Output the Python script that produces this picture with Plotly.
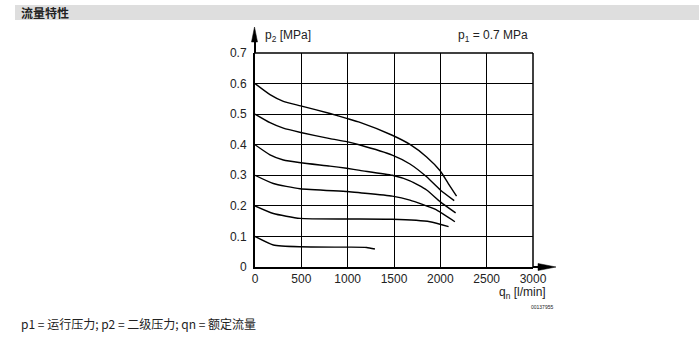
import plotly.graph_objects as go

# Flow characteristic curves (q_n in l/min, p2 in MPa)
q_06 = [0, 162, 306, 493, 809, 989, 1133, 1481, 1672, 1852, 2000, 2086, 2175]
p_06 = [0.6, 0.564, 0.542, 0.527, 0.502, 0.486, 0.473, 0.431, 0.401, 0.360, 0.314, 0.273, 0.232]
q_05 = [0, 162, 306, 493, 809, 989, 1133, 1481, 1672, 1852, 2000, 2150]
p_05 = [0.5, 0.472, 0.454, 0.440, 0.420, 0.410, 0.399, 0.366, 0.337, 0.295, 0.252, 0.217]
q_04 = [0, 162, 306, 493, 809, 989, 1133, 1481, 1672, 1852, 2000, 2165]
p_04 = [0.4, 0.367, 0.350, 0.341, 0.330, 0.323, 0.316, 0.300, 0.282, 0.252, 0.213, 0.177]
q_03 = [0, 198, 485, 1000, 1133, 1481, 1672, 1942, 2157]
p_03 = [0.3, 0.273, 0.256, 0.247, 0.243, 0.232, 0.219, 0.189, 0.148]
q_02 = [0, 198, 485, 1000, 1481, 1888, 2089]
p_02 = [0.2, 0.175, 0.159, 0.157, 0.156, 0.148, 0.132]
q_01 = [0, 198, 485, 1000, 1205, 1294]
p_01 = [0.1, 0.072, 0.066, 0.065, 0.064, 0.059]

series = [(q_06, p_06), (q_05, p_05), (q_04, p_04), (q_03, p_03), (q_02, p_02), (q_01, p_01)]

x_ticks = [0, 500, 1000, 1500, 2000, 2500, 3000]
y_ticks = [0, 0.1, 0.2, 0.3, 0.4, 0.5, 0.6, 0.7]
y_labels = ["0", "0.1", "0.2", "0.3", "0.4", "0.5", "0.6", "0.7"]

W, H = 699, 356
L, R, T, B = 255, 533, 53, 267  # plot area pixel bounds
pw, ph = R - L, B - T

def px(xp):
    return (xp - L) / pw

def py(yp):
    return (B - yp) / ph

FONT = "Liberation Sans, Arial, sans-serif"
CJK = "Noto Sans CJK SC, sans-serif"

fig = go.Figure()
for q, p in series:
    fig.add_trace(go.Scatter(x=q, y=p, mode="lines",
                             line=dict(color="black", width=1.4, shape="spline", smoothing=0.5),
                             hoverinfo="skip", showlegend=False))

fig.update_layout(
    width=W, height=H, autosize=False,
    margin=dict(l=L, r=W - R, t=T, b=H - B, pad=0),
    paper_bgcolor="white", plot_bgcolor="white",
    font=dict(family=FONT, size=12, color="#222"),
    showlegend=False,
)
fig.update_xaxes(range=[0, 3000], tickvals=x_ticks, ticktext=[str(v) for v in x_ticks],
                 showgrid=True, gridcolor="black", gridwidth=1,
                 showline=True, linecolor="black", linewidth=2, zeroline=False,
                 ticks="", tickfont=dict(family=FONT, size=12, color="#222"), fixedrange=True)
fig.update_yaxes(range=[0, 0.7], tickvals=y_ticks, ticktext=y_labels,
                 showgrid=True, gridcolor="black", gridwidth=1,
                 showline=True, linecolor="black", linewidth=2, zeroline=False,
                 ticks="", ticklabelstandoff=4,
                 tickfont=dict(family=FONT, size=12, color="#222"), fixedrange=True)

shapes = [
    # header band
    dict(type="rect", xref="paper", yref="paper", x0=px(15), x1=px(699), y0=py(20), y1=py(5),
         fillcolor="#dedede", line=dict(width=0), layer="below"),
    # top and right border
    dict(type="line", xref="paper", yref="paper", x0=0, x1=1, y0=1, y1=1, line=dict(color="black", width=1.5)),
    dict(type="line", xref="paper", yref="paper", x0=1, x1=1, y0=0, y1=1, line=dict(color="black", width=1.5)),
    # axis extensions
    dict(type="line", xref="paper", yref="paper", x0=0, x1=0, y0=1, y1=py(40), line=dict(color="black", width=2)),
    dict(type="line", xref="paper", yref="paper", x0=1, x1=px(540), y0=0, y1=0, line=dict(color="black", width=2)),
    # arrow heads
    dict(type="path", xref="paper", yref="paper",
         path=f"M {px(251.5)} {py(42)} L {px(257.5)} {py(42)} L {px(254.5)} {py(27)} Z",
         fillcolor="black", line=dict(color="black", width=0.5)),
    dict(type="path", xref="paper", yref="paper",
         path=f"M {px(538)} {py(263.5)} L {px(538)} {py(270.5)} L {px(556)} {py(267)} Z",
         fillcolor="black", line=dict(color="black", width=0.5)),
]
fig.update_layout(shapes=shapes)

ann = [
    dict(text="<b>流量特性</b>", x=px(19), y=py(13), xanchor="left", yanchor="middle",
         font=dict(family=CJK, size=12, color="#222")),
    dict(text="p<sub>2</sub> [MPa]", x=px(263), y=py(36), xanchor="left", yanchor="middle",
         font=dict(family=FONT, size=12, color="#222")),
    dict(text="p<sub>1</sub> = 0.7 MPa", x=px(530), y=py(36), xanchor="right", yanchor="middle",
         font=dict(family=FONT, size=12, color="#222")),
    dict(text="q<sub>n</sub> [l/min]", x=px(548), y=py(293), xanchor="right", yanchor="middle",
         font=dict(family=FONT, size=12, color="#222")),
    dict(text="00137955", x=px(555), y=py(307), xanchor="right", yanchor="middle",
         font=dict(family=FONT, size=5, color="#222")),
    dict(text="p1 = 运行压力; p2 = 二级压力; qn = 额定流量", x=px(19), y=py(324), xanchor="left", yanchor="middle",
         font=dict(family=CJK, size=12, color="#222")),
]
for a in ann:
    a.update(xref="paper", yref="paper", showarrow=False)
fig.update_layout(annotations=ann)

fig.write_html("out.html", config={"displayModeBar": False, "staticPlot": True},
               post_script="document.body.style.margin='0';")
